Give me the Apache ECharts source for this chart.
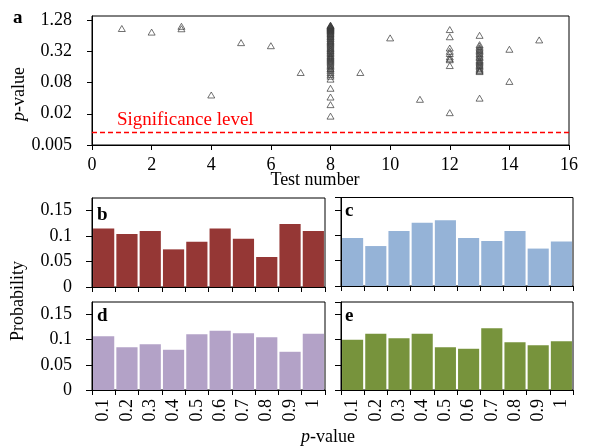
<!DOCTYPE html>
<html><head><meta charset="utf-8">
<script src="https://cdn.jsdelivr.net/npm/echarts@6/dist/echarts.min.js"></script>
<style>html,body{margin:0;padding:0;background:#fff}#c{width:589px;height:446px}</style>
</head><body><div id="c"></div>
<script>
// ---- data ----
const testNumbers = [1,2,3,4,5,6,7,8,9,10,11,12,13,14,15];
const pTest8 = [1.02,1.0,0.98,0.96,0.94,0.92,0.90,0.88,0.86,0.84,0.82,0.80,0.78,0.75,0.72,0.70,0.68,0.65,0.62,0.60,0.57,0.55,0.52,0.50,0.48,0.46,0.44,0.42,0.40,0.38,0.36,0.35,0.33,0.32,0.30,0.29,0.27,0.26,0.25,0.24,0.23,0.22,0.21,0.20,0.19,0.18,0.17,0.16,0.15,0.145,0.135,0.125,0.115,0.106,0.093,0.062,0.042,0.030,0.018];
const pTest12 = [0.84,0.61,0.37,0.32,0.29,0.25,0.23,0.22,0.17,0.021];
const pTest13 = [0.65,0.43,0.40,0.37,0.35,0.33,0.31,0.29,0.27,0.25,0.24,0.22,0.21,0.20,0.19,0.18,0.17,0.16,0.15,0.14,0.135,0.13,0.040];
const pValuesByTest = [[0.88],[0.75],[0.97,0.87],[0.046],[0.47],[0.41],[0.125],pTest8,[0.125],[0.58],[0.038],pTest12,pTest13,[0.35,0.084],[0.53]];
const pTickLabels = ['0.005','0.02','0.08','0.32','1.28'];
const significanceLevel = 0.0088;
const binLabels = ['0.1','0.2','0.3','0.4','0.5','0.6','0.7','0.8','0.9','1'];
const probB = [0.115,0.104,0.110,0.074,0.089,0.115,0.095,0.059,0.124,0.110];
const probC = [0.095,0.079,0.109,0.125,0.130,0.095,0.089,0.109,0.074,0.088];
const probD = [0.107,0.085,0.091,0.080,0.111,0.118,0.113,0.105,0.076,0.112];
const probE = [0.100,0.112,0.103,0.112,0.085,0.082,0.123,0.095,0.089,0.097];
const panelLetters = ['a','b','c','d','e'];

// ---- helpers ----
const P0 = 0.005, LOGBASE = 4;
const toAxis = p => Math.log(p / P0) / Math.log(LOGBASE);
const FONT = "'Liberation Serif','Times New Roman',serif";
const black = '#000';

const scatterData = [];
testNumbers.forEach((t, i) => pValuesByTest[i].forEach(p => scatterData.push([t, toAxis(p)])));

const grids = [
  {left: 92, top: 16, width: 477, height: 129},
  {left: 92, top: 198, width: 233, height: 89},
  {left: 341, top: 197.5, width: 232, height: 88.5},
  {left: 92, top: 302, width: 233, height: 88},
  {left: 341, top: 302, width: 232, height: 88}
].map(g => Object.assign(g, {show: true, borderColor: black, borderWidth: 1, containLabel: false}));

const axisLine = {show: true, lineStyle: {color: black, width: 1}};
const tick = len => ({show: true, length: len, lineStyle: {color: black, width: 1}});
const lbl = extra => Object.assign({color: black, fontFamily: FONT, fontSize: 18}, extra);

const xAxes = [{
  type: 'value', gridIndex: 0, min: 0, max: 16, interval: 2,
  axisLine, axisTick: tick(5), splitLine: {show: false},
  axisLabel: lbl({margin: 11})
}];
const yAxes = [{
  type: 'value', gridIndex: 0, min: 0, max: 4.13, interval: 1,
  axisLine, axisTick: tick(5), splitLine: {show: false},
  axisLabel: lbl({margin: 20, showMaxLabel: false,
    formatter: v => Math.abs(v - Math.round(v)) < 1e-6 ? (pTickLabels[Math.round(v)] || '') : ''})
}];
const barSets = [probB, probC, probD, probE];
const barColors = ['#953735', '#95b3d7', '#b3a2c7', '#77933c'];
const series = [{
  type: 'scatter', xAxisIndex: 0, yAxisIndex: 0, data: scatterData,
  symbol: 'triangle', symbolSize: [7, 6],
  itemStyle: {color: 'rgba(0,0,0,0)', borderColor: '#3a3a3a', borderWidth: 0.9},
  markLine: {silent: true, symbol: 'none', label: {show: false},
    lineStyle: {color: '#ff0000', type: [5, 3], width: 1.3},
    data: [{yAxis: toAxis(significanceLevel)}]}
}];
barSets.forEach((vals, k) => {
  const gi = k + 1;
  const showX = gi >= 3, showY = gi === 1 || gi === 3;
  xAxes.push({
    type: 'category', gridIndex: gi, data: binLabels, boundaryGap: true,
    axisLine, axisTick: tick(5), splitLine: {show: false},
    axisLabel: lbl({show: showX, rotate: 90, margin: 9, interval: 0})
  });
  yAxes.push({
    type: 'value', gridIndex: gi, min: 0, max: 0.175, interval: 0.05,
    axisLine, axisTick: tick(6), splitLine: {show: false},
    axisLabel: lbl({show: showY, margin: 20, showMaxLabel: false})
  });
  series.push({
    type: 'bar', xAxisIndex: gi, yAxisIndex: gi, data: vals,
    barCategoryGap: '9%',
    itemStyle: {color: barColors[k]}
  });
});

const txt = (text, x, y, extra) => ({
  type: 'text', x, y, rotation: extra && extra.rotation || 0, silent: true,
  style: Object.assign({text, fill: black, font: `18px ${FONT}`, align: 'center', verticalAlign: 'middle'}, extra && extra.style)
});
const graphic = [
  txt('Significance level', 117, 120, {style: {fill: '#ff0000', font: `19px ${FONT}`, align: 'left'}}),
  txt('Test number', 315, 180),
  txt('{i|p}-value', 19, 94, {rotation: Math.PI / 2, style: {rich: {i: {fontStyle: 'italic', font: `italic 18px ${FONT}`}}}}),
  txt('Probability', 18, 301, {rotation: Math.PI / 2}),
  txt('{i|p}-value', 328, 437, {style: {rich: {i: {fontStyle: 'italic', font: `italic 18px ${FONT}`}}}}),
  txt(panelLetters[0], 13, 18.5, {style: {font: `bold 19px ${FONT}`, align: 'left'}}),
  txt(panelLetters[1], 97, 215, {style: {font: `bold 19px ${FONT}`, align: 'left'}}),
  txt(panelLetters[2], 345, 211, {style: {font: `bold 19px ${FONT}`, align: 'left'}}),
  txt(panelLetters[3], 97, 316, {style: {font: `bold 19px ${FONT}`, align: 'left'}}),
  txt(panelLetters[4], 345, 316, {style: {font: `bold 19px ${FONT}`, align: 'left'}})
];

const chart = echarts.init(document.getElementById('c'), null, {renderer: 'canvas'});
chart.setOption({
  animation: false, backgroundColor: '#fff',
  grid: grids, xAxis: xAxes, yAxis: yAxes, series, graphic
});
</script></body></html>
